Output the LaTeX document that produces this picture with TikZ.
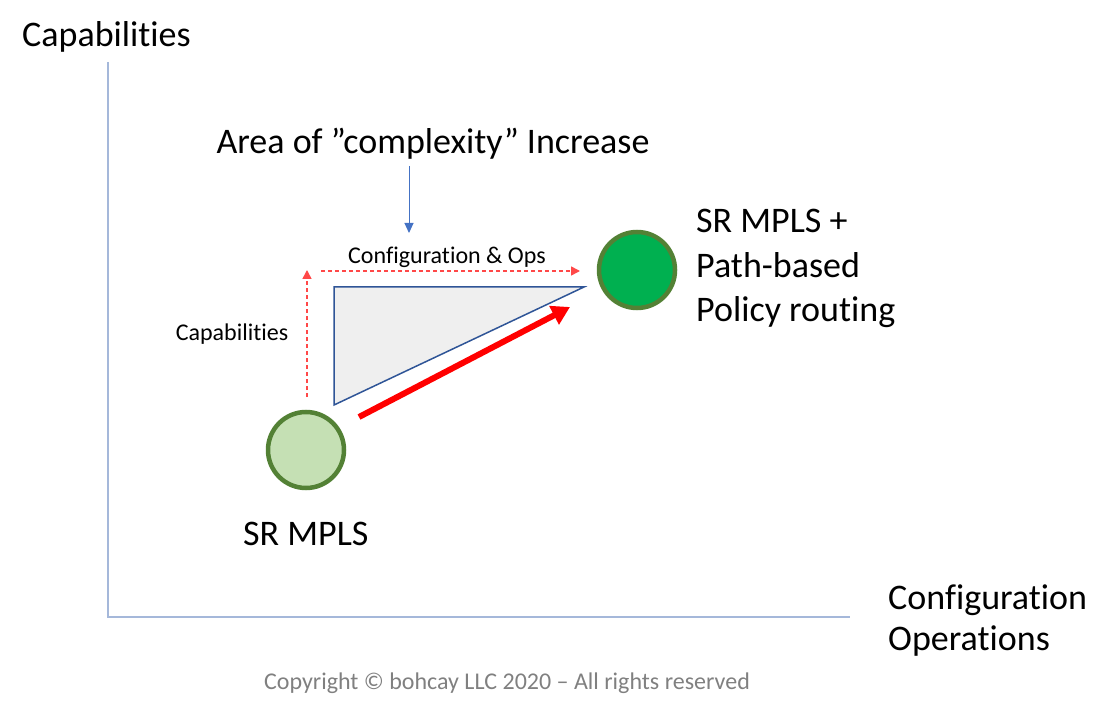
\documentclass[tikz,border=0pt]{standalone}
\usepackage{fontspec}
\setmainfont{Carlito}[Ligatures=NoCommon]
\usetikzlibrary{arrows.meta}
\definecolor{axisblue}{HTML}{A5B8DA}
\definecolor{arrowblue}{HTML}{4472C4}
\definecolor{tridark}{HTML}{2F5597}
\definecolor{trifill}{HTML}{EFEFEF}
\definecolor{ringgreen}{HTML}{538135}
\definecolor{lightgreen}{HTML}{C5E0B4}
\definecolor{darkgreen}{HTML}{00B050}
\definecolor{dashred}{HTML}{FF4848}
\definecolor{copygray}{HTML}{808080}
\tikzset{
  bigtext/.style={font=\fontsize{36}{44}\selectfont, inner sep=0pt},
  smalltext/.style={font=\fontsize{24}{28}\selectfont, inner sep=0pt},
  axisline/.style={draw=axisblue, line width=2pt},
  dashedarrow/.style={draw=dashred, line width=1.5pt, dash pattern=on 4pt off 3pt, -{Triangle[length=9pt,width=9pt]}},
  bigarrow/.style={draw=red, line width=6pt, -{Triangle[length=18pt,width=20pt]}},
  statecircle/.style={circle, draw=ringgreen, line width=4.5pt, minimum size=76pt, inner sep=0pt},
}
\begin{document}
\begin{tikzpicture}[x=1pt,y=-1pt]
\useasboundingbox (0,0) rectangle (1110,708);
% axes
\coordinate (ytop) at (108,62);
\coordinate (origin) at (108,617);
\coordinate (xend) at (850,617);
\draw[axisline] (ytop) -- (origin) -- (xend);
% axis labels
\node[bigtext, anchor=base west] (ylabel) at (22,47) {Capabilities};
\node[bigtext, anchor=base west, align=left] (xlabel1) at (888,609) {Configuration};
\node[bigtext, anchor=base west, align=left] (xlabel2) at (888,650) {Operations};
% area label and arrow
\node[bigtext, anchor=base] (area) at (433,154) {Area of ”complexity” Increase};
\coordinate (areastart) at (409,166);
\coordinate (areatip) at (409,233);
\draw[draw=arrowblue, line width=1pt, -{Triangle[length=10pt,width=9pt]}] (areastart) -- (areatip);
% triangle
\coordinate (tA) at (334,287);
\coordinate (tB) at (584,287);
\coordinate (tC) at (334,405);
\filldraw[fill=trifill, draw=tridark, line width=1.5pt, line join=miter] (tA) -- (tB) -- (tC) -- cycle;
% dashed arrows
\coordinate (capstart) at (307,397);
\coordinate (captip) at (307,270);
\coordinate (cfgstart) at (321,271);
\coordinate (cfgtip) at (580,271);
\draw[dashedarrow] (capstart) -- (captip);
\draw[dashedarrow] (cfgstart) -- (cfgtip);
\node[smalltext, anchor=base] (caplabel) at (232,341) {Capabilities};
\node[smalltext, anchor=base] (cfglabel) at (447,264) {Configuration \& Ops};
% circles
\node[statecircle, fill=lightgreen] (lo) at (306,450) {};
\node[statecircle, fill=darkgreen] (hi) at (637,270) {};
\coordinate (redstart) at (359,417);
\coordinate (redtip) at (570,307);
\draw[bigarrow] (redstart) -- (redtip);
% state labels
\node[bigtext, anchor=base west] (lolabel) at (243,545) {SR MPLS};
\node[bigtext, anchor=base west] (hilabel1) at (696,233) {SR MPLS +};
\node[bigtext, anchor=base west] (hilabel2) at (696,278) {Path-based};
\node[bigtext, anchor=base west] (hilabel3) at (696,322) {Policy routing};
% copyright
\node[smalltext, text=copygray, anchor=base] (copy) at (507,689) {Copyright © bohcay LLC 2020 – All rights reserved};
\end{tikzpicture}
\end{document}
